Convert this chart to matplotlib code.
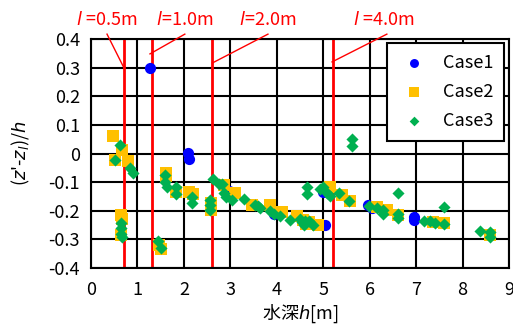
import matplotlib
matplotlib.use("Agg")
import matplotlib.pyplot as plt

plt.rcParams['font.family'] = ['Noto Sans CJK JP', 'DejaVu Sans']
plt.rcParams['mathtext.fontset'] = 'dejavusans'

case1_x = [1.27, 2.08, 2.10, 2.96, 2.98, 3.93, 5.00, 5.03, 5.97, 6.04, 6.96, 6.96]
case1_y = [0.297, 0.003, -0.020, -0.145, -0.131, -0.21, -0.133, -0.25, -0.18, -0.19, -0.222, -0.232]

case2_x = [0.48, 0.66, 0.52, 0.79, 0.65, 0.66, 0.65, 1.61, 1.62, 1.82, 2.10, 2.19, 1.47, 1.50,
           2.58, 2.58, 2.87, 3.10, 3.46, 3.85, 4.11, 4.43, 4.57, 4.89, 5.15, 5.40, 5.58, 6.15,
           6.37, 6.62, 7.37, 7.59, 8.59, 4.62, 4.70]
case2_y = [0.061, 0.012, -0.023, -0.025, -0.215, -0.23, -0.285, -0.067, -0.08, -0.133, -0.133,
           -0.14, -0.32, -0.335, -0.173, -0.196, -0.11, -0.139, -0.18, -0.18, -0.203, -0.22,
           -0.232, -0.25, -0.116, -0.145, -0.165, -0.186, -0.197, -0.215, -0.238, -0.244, -0.285,
           -0.245, -0.24]

case3_x = [0.63, 0.52, 0.83, 0.90, 0.65, 0.65, 0.64, 0.66, 1.59, 1.60, 1.64, 1.83, 1.83, 2.17,
           2.17, 1.45, 1.51, 2.62, 2.57, 2.57, 2.57, 2.76, 2.86, 2.90, 3.03, 3.29, 3.53, 3.64,
           3.85, 3.93, 4.08, 4.29, 4.50, 4.55, 4.60, 4.58, 4.70, 4.78, 4.66, 4.66, 4.93, 4.99,
           5.09, 5.15, 5.33, 5.56, 5.63, 5.63, 5.99, 6.15, 6.29, 6.29, 6.60, 6.60, 6.62, 7.16,
           7.30, 7.40, 7.60, 7.60, 8.38, 8.59, 8.59, 2.81, 3.60]
case3_y = [0.030, -0.023, -0.05, -0.069, -0.244, -0.26, -0.28, -0.29, -0.075, -0.1, -0.116,
           -0.118, -0.14, -0.153, -0.172, -0.306, -0.331, -0.089, -0.162, -0.18, -0.196, -0.107,
           -0.139, -0.153, -0.162, -0.16, -0.18, -0.19, -0.2, -0.21, -0.22, -0.232, -0.23, -0.24,
           -0.235, -0.25, -0.235, -0.25, -0.116, -0.142, -0.125, -0.118, -0.137, -0.15, -0.139,
           -0.165, 0.05, 0.026, -0.183, -0.19, -0.197, -0.21, -0.21, -0.225, -0.139, -0.235,
           -0.235, -0.243, -0.246, -0.186, -0.27, -0.275, -0.29, -0.107, -0.185]

red_lines = [0.71, 1.31, 2.61, 5.2]
labels = [r"$\it{l}$ =0.5m", r"$\it{l}$=1.0m", r"$\it{l}$=2.0m", r"$\it{l}$ =4.0m"]
label_pos = [(0.345, 0.466), (2.02, 0.466), (3.81, 0.466), (6.31, 0.466)]
leader_start = [(0.345, 0.417), (2.02, 0.417), (3.81, 0.417), (6.37, 0.417)]
leader_end = [(0.71, 0.299), (1.27, 0.348), (2.61, 0.316), (5.19, 0.32)]

xticks = [0, 1, 2, 3, 4, 5, 6, 7, 8, 9]
yticks = [0.4, 0.3, 0.2, 0.1, 0, -0.1, -0.2, -0.3, -0.4]
ytick_labels = ["0.4", "0.3", "0.2", "0.1", "0", "-0.1", "-0.2", "-0.3", "-0.4"]

fig = plt.figure(figsize=(5.13, 3.24), dpi=100)
ax = fig.add_axes([0.1774, 0.1728, 0.8148, 0.7068])
ax.set_xlim(0, 9)
ax.set_ylim(-0.4, 0.4)
ax.set_xticks(xticks)
ax.set_xticklabels([str(t) for t in xticks])
ax.set_yticks(yticks)
ax.set_yticklabels(ytick_labels)
ax.grid(True, color='black', linewidth=1.5, zorder=0)
ax.set_axisbelow(True)
ax.tick_params(axis='y', length=0, labelsize=13, pad=8)
ax.tick_params(axis='x', length=0, labelsize=13, pad=9)
for s in ax.spines.values():
    s.set_linewidth(1.5)
    s.set_color('black')

for x in red_lines:
    ax.axvline(x, color='red', linewidth=2, zorder=2)

ax.scatter(case1_x, case1_y, marker='o', s=65, color='#0000FF', zorder=3, label='Case1', linewidths=0)
ax.scatter(case2_x, case2_y, marker='s', s=70, color='#FFC000', zorder=4, label='Case2', linewidths=0)
ax.scatter(case3_x, case3_y, marker='D', s=38, color='#00B050', zorder=5, label='Case3', linewidths=0)

for lab, (tx, ty), (sx, sy), (ex, ey) in zip(labels, label_pos, leader_start, leader_end):
    ax.text(tx, ty, lab, color='red', fontsize=13, ha='center', va='center', clip_on=False)
    ax.plot([sx, ex], [sy, ey], color='red', linewidth=1, clip_on=False, zorder=6)

leg = ax.legend(loc='upper right', bbox_to_anchor=(0.988, 0.983), fancybox=False,
                edgecolor='black', framealpha=1, fontsize=13, labelspacing=0.62,
                handletextpad=0.7, borderpad=0.6, borderaxespad=0, markerscale=0.8,
                handlelength=1.8)
leg.get_frame().set_linewidth(1.5)
leg.set_zorder(10)

ax.set_xlabel(r"水深$\it{h}$[m]", fontsize=13, labelpad=3)
ax.set_ylabel(r"($\it{z}$'-$\it{z_l}$)/$\it{h}$", fontsize=13, labelpad=12)

fig.savefig("out.png", dpi=100)
